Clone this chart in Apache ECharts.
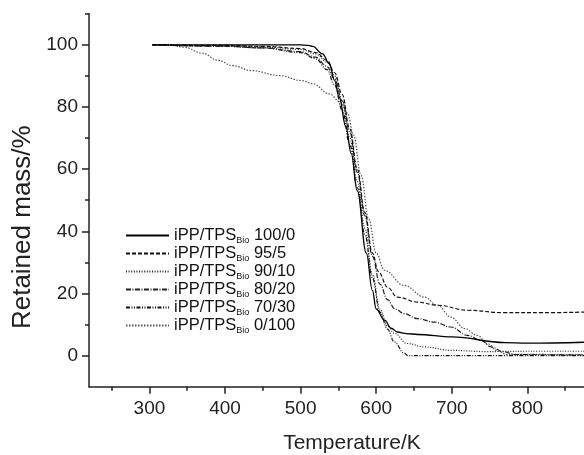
<!DOCTYPE html>
<html>
<head>
<meta charset="utf-8">
<script src="https://cdn.jsdelivr.net/npm/echarts@6/dist/echarts.min.js"></script>
<style>html,body{margin:0;padding:0;background:#fff}#c{width:584px;height:455px}</style>
</head>
<body>
<div id="c"></div>
<script>
// Data (temperature in K, retained mass in %)
const seriesNames = ['100/0', '95/5', '90/10', '80/20', '70/30', '0/100'];

const t100 = [304, 400, 500, 510, 516, 529, 538, 545, 551, 560, 567, 575, 587, 595, 600, 611, 620, 628, 640, 655, 700, 770, 800, 875];
const m100 = [100, 100, 100, 99.8, 99.5, 97.1, 93.9, 88.5, 83.2, 73.5, 65, 53, 33, 21, 15, 11.4, 8.8, 7.6, 7.1, 6.8, 6.0, 4.2, 4.0, 4.3];

const t95 = [304, 400, 450, 500, 520, 535, 545, 555, 565, 575, 585, 595, 603, 615, 628, 655, 681, 721, 769, 820, 875];
const m95 = [100, 99.8, 99.5, 98.8, 97.5, 95, 91, 84, 73, 60, 46, 33, 27, 22, 18.8, 17.2, 16.2, 14.6, 13.8, 13.8, 14];

const t90 = [304, 400, 450, 500, 520, 535, 545, 555, 565, 575, 585, 595, 605, 615, 624, 641, 664, 699, 743, 800, 875];
const m90 = [100, 99.7, 99.3, 98.5, 97, 94.5, 90, 82, 70, 56, 41, 26, 15, 9.5, 7.2, 3.9, 2.8, 1.7, 1.3, 1.4, 1.4];

const t80 = [304, 400, 450, 500, 520, 535, 545, 555, 565, 575, 585, 595, 605, 615, 625, 637, 655, 677, 699, 721, 739, 752, 769, 785, 875];
const m80 = [100, 99.5, 99, 97.8, 96, 93, 89, 82, 72, 59, 45, 32, 23, 18, 15, 13.5, 11.9, 10.8, 9.2, 6.5, 4.9, 2.8, 1.2, 0.3, 0.2];

const t70 = [304, 400, 450, 500, 520, 535, 545, 555, 565, 575, 585, 595, 605, 615, 624, 637, 642, 875];
const m70 = [100, 99.5, 99, 97.5, 95.5, 92, 87, 79, 68, 54, 39, 25, 14, 8.5, 4.4, 0.8, 0, 0];

const t0 = [304, 330, 346, 370, 391, 410, 435, 472, 501, 516, 538, 553, 562, 570, 580, 590, 600, 611, 637, 664, 681, 699, 717, 734, 747, 760, 772, 875];
const m0 = [100, 99.8, 99.2, 97.3, 95, 93.3, 91.7, 90.1, 88.5, 87.5, 84.2, 81.5, 78, 71, 58, 44, 33, 27.4, 22.6, 18.8, 16.2, 12.4, 8.7, 6.5, 3.9, 1.6, 0.4, 0.3];

const xMajorTicks = [300, 400, 500, 600, 700, 800];
const xMinorTicks = [250, 350, 450, 550, 650, 750, 850];
const yMajorTicks = [0, 20, 40, 60, 80, 100];
const yMinorTicks = [10, 30, 50, 70, 90, 110];

function zip(t, m) { return t.map((v, i) => [v, m[i]]); }
const seriesData = [zip(t100, m100), zip(t95, m95), zip(t90, m90), zip(t80, m80), zip(t70, m70), zip(t0, m0)];

const styles = [
  { color: '#000', width: 1.3, type: 'solid' },
  { color: '#111', width: 1.2, type: [4, 2] },
  { color: '#222', width: 1.2, type: [1, 1.6] },
  { color: '#222', width: 1.2, type: [5, 1.5, 1, 1.5] },
  { color: '#111', width: 1.2, type: [4, 1.5, 1, 1.5, 1, 1.5] },
  { color: '#555', width: 1.2, type: [1.5, 1.5] }
];

const FONT = '"Liberation Sans", Arial, Helvetica, sans-serif';
const axisColor = '#222';

const chart = echarts.init(document.getElementById('c'), null, { renderer: 'canvas' });
chart.setOption({
  animation: false,
  backgroundColor: '#fff',
  grid: { left: 89, right: 0, top: 13.7, bottom: 68.3, containLabel: false, outerBoundsMode: 'none' },
  legend: {
    orient: 'vertical',
    left: 125,
    top: 226,
    padding: 0,
    itemWidth: 43,
    itemHeight: 10,
    itemGap: -1,
    itemStyle: { opacity: 0 },
    data: seriesNames,
    formatter: name => '{m|iPP/TPS}{s|Bio}{m| ' + name + '}',
    textStyle: {
      fontFamily: FONT,
      color: '#111',
      fontSize: 16.5,
      rich: {
        m: { fontFamily: FONT, fontSize: 16.5, lineHeight: 17, color: '#111' },
        s: { fontFamily: FONT, fontSize: 9, lineHeight: 10, padding: [10, 0, 0, 0], color: '#111' }
      }
    }
  },
  xAxis: [{
    type: 'value', min: 220, max: 875,
    name: 'Temperature/K', nameLocation: 'middle', nameGap: 46,
    nameTextStyle: { fontFamily: FONT, fontSize: 21, color: axisColor, padding: [0, 0, 0, 31] },
    axisLine: { onZero: false, lineStyle: { color: axisColor, width: 1.5 } },
    axisTick: { customValues: xMajorTicks, length: 7, lineStyle: { color: axisColor, width: 1.5 } },
    axisLabel: { customValues: xMajorTicks, fontFamily: FONT, fontSize: 19, color: axisColor, margin: 13 },
    splitLine: { show: false }
  }, {
    type: 'value', min: 220, max: 875, position: 'bottom',
    axisLine: { show: false, onZero: false },
    axisTick: { customValues: xMinorTicks, length: 4, lineStyle: { color: axisColor, width: 1.5 } },
    axisLabel: { show: false },
    splitLine: { show: false }
  }],
  yAxis: [{
    type: 'value', min: -10, max: 110,
    name: 'Retained mass/%', nameLocation: 'middle', nameGap: 45,
    nameTextStyle: { fontFamily: FONT, fontSize: 26, color: axisColor, padding: [0, 54, 0, 0] },
    axisLine: { onZero: false, lineStyle: { color: axisColor, width: 1.5 } },
    axisTick: { customValues: yMajorTicks, length: 7, lineStyle: { color: axisColor, width: 1.5 } },
    axisLabel: { customValues: yMajorTicks, fontFamily: FONT, fontSize: 19, color: axisColor, margin: 11 },
    splitLine: { show: false }
  }, {
    type: 'value', min: -10, max: 110, position: 'left',
    axisLine: { show: false, onZero: false },
    axisTick: { customValues: yMinorTicks, length: 4, lineStyle: { color: axisColor, width: 1.5 } },
    axisLabel: { show: false },
    splitLine: { show: false }
  }],
  series: seriesNames.map((name, i) => ({
    name: name,
    type: 'line',
    xAxisIndex: 0,
    yAxisIndex: 0,
    data: seriesData[i],
    symbol: 'none',
    smooth: 0.4,
    smoothMonotone: 'x',
    lineStyle: styles[i],
    itemStyle: { color: styles[i].color },
    z: 10 - i
  }))
});
</script>
</body>
</html>
